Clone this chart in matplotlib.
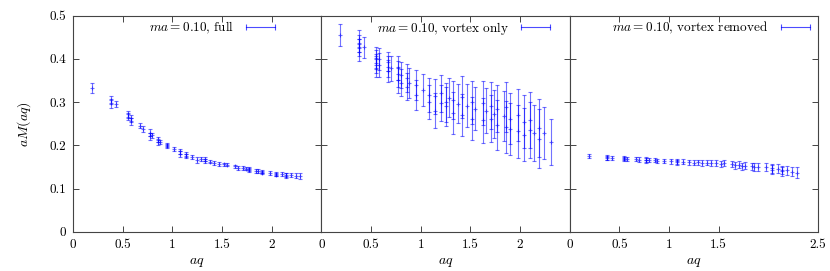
import numpy as np
import matplotlib
matplotlib.use("Agg")
import matplotlib.pyplot as plt
from matplotlib.lines import Line2D
from matplotlib.ticker import FuncFormatter

plt.rcParams['font.family'] = 'serif'
plt.rcParams['font.serif'] = ['cmr10']
plt.rcParams['mathtext.fontset'] = 'cm'
plt.rcParams['axes.formatter.use_mathtext'] = True

# full configuration
q_full = [0.19, 0.38, 0.38, 0.43, 0.55, 0.55, 0.58, 0.58, 0.67, 0.70, 0.77, 0.77,
          0.80, 0.86, 0.86, 0.88, 0.95, 0.95, 1.02, 1.08, 1.08, 1.14, 1.14, 1.20,
          1.25, 1.29, 1.33, 1.33, 1.38, 1.42, 1.47, 1.52, 1.55, 1.63, 1.66, 1.71,
          1.74, 1.77, 1.77, 1.84, 1.86, 1.90, 1.90, 1.98, 2.04, 2.04, 2.10, 2.14,
          2.14, 2.19, 2.24, 2.29]
m_full = [0.332, 0.305, 0.297, 0.296, 0.272, 0.266, 0.263, 0.256, 0.245, 0.238, 0.229, 0.221,
          0.223, 0.214, 0.207, 0.208, 0.201, 0.198, 0.191, 0.186, 0.180, 0.179, 0.176, 0.173,
          0.166, 0.169, 0.168, 0.163, 0.162, 0.159, 0.157, 0.156, 0.155, 0.151, 0.148, 0.147,
          0.146, 0.145, 0.143, 0.141, 0.141, 0.139, 0.137, 0.136, 0.134, 0.132, 0.133, 0.132,
          0.130, 0.131, 0.130, 0.128]
e_full = [0.012, 0.010, 0.010, 0.007, 0.008, 0.008, 0.008, 0.008, 0.006, 0.007, 0.008, 0.008,
          0.006, 0.006, 0.006, 0.005, 0.005, 0.004, 0.005, 0.005, 0.006, 0.005, 0.005, 0.005,
          0.006, 0.005, 0.005, 0.005, 0.004, 0.004, 0.004, 0.004, 0.004, 0.004, 0.004, 0.004,
          0.004, 0.004, 0.004, 0.004, 0.004, 0.004, 0.004, 0.004, 0.004, 0.004, 0.005, 0.005,
          0.005, 0.005, 0.006, 0.007]

# vortex only
q_vo = [0.19, 0.38, 0.38, 0.38, 0.38, 0.43, 0.55, 0.55, 0.55, 0.55, 0.58, 0.58,
        0.67, 0.67, 0.67, 0.70, 0.77, 0.77, 0.77, 0.80, 0.80, 0.86, 0.86, 0.88,
        0.95, 0.95, 1.02, 1.08, 1.08, 1.14, 1.14, 1.20, 1.20, 1.25, 1.25, 1.29,
        1.33, 1.33, 1.38, 1.42, 1.42, 1.47, 1.52, 1.52, 1.55, 1.63, 1.63, 1.66,
        1.71, 1.71, 1.74, 1.77, 1.77, 1.84, 1.86, 1.86, 1.90, 1.90, 1.98, 1.98,
        2.04, 2.04, 2.10, 2.10, 2.14, 2.19, 2.19, 2.24, 2.31]
m_vo = [0.455, 0.446, 0.436, 0.427, 0.415, 0.427, 0.407, 0.399, 0.390, 0.380, 0.400, 0.385,
        0.393, 0.382, 0.372, 0.378, 0.379, 0.365, 0.352, 0.362, 0.345, 0.356, 0.336, 0.345,
        0.340, 0.316, 0.328, 0.316, 0.300, 0.313, 0.280, 0.320, 0.298, 0.300, 0.290, 0.310,
        0.305, 0.275, 0.296, 0.312, 0.270, 0.292, 0.300, 0.262, 0.285, 0.298, 0.258, 0.280,
        0.292, 0.262, 0.272, 0.285, 0.248, 0.268, 0.288, 0.243, 0.262, 0.238, 0.270, 0.232,
        0.255, 0.225, 0.258, 0.236, 0.228, 0.240, 0.215, 0.228, 0.208]
e_vo = [0.025, 0.020, 0.020, 0.020, 0.020, 0.024, 0.020, 0.022, 0.022, 0.022, 0.025, 0.028,
        0.022, 0.025, 0.025, 0.028, 0.028, 0.030, 0.030, 0.030, 0.032, 0.032, 0.032, 0.035,
        0.035, 0.035, 0.038, 0.040, 0.040, 0.040, 0.040, 0.042, 0.042, 0.045, 0.045, 0.045,
        0.045, 0.048, 0.045, 0.048, 0.048, 0.050, 0.050, 0.050, 0.050, 0.052, 0.052, 0.052,
        0.055, 0.055, 0.055, 0.055, 0.058, 0.058, 0.058, 0.060, 0.060, 0.060, 0.060, 0.062,
        0.062, 0.062, 0.065, 0.065, 0.065, 0.068, 0.068, 0.060, 0.053]

# vortex removed
q_vr = [0.19, 0.38, 0.38, 0.43, 0.55, 0.55, 0.58, 0.67, 0.70, 0.77, 0.77, 0.80,
        0.86, 0.88, 0.95, 1.02, 1.08, 1.08, 1.14, 1.20, 1.25, 1.29, 1.33, 1.38,
        1.42, 1.47, 1.52, 1.55, 1.63, 1.66, 1.71, 1.74, 1.77, 1.84, 1.86, 1.90,
        1.98, 2.04, 2.04, 2.10, 2.14, 2.14, 2.19, 2.24, 2.29]
m_vr = [0.176, 0.172, 0.170, 0.171, 0.170, 0.168, 0.169, 0.168, 0.167, 0.167, 0.165, 0.166,
        0.166, 0.164, 0.164, 0.163, 0.163, 0.161, 0.162, 0.161, 0.160, 0.161, 0.159, 0.160,
        0.158, 0.159, 0.157, 0.158, 0.156, 0.154, 0.155, 0.152, 0.153, 0.152, 0.149, 0.150,
        0.149, 0.147, 0.144, 0.146, 0.143, 0.140, 0.142, 0.139, 0.137]
e_vr = [0.005, 0.005, 0.005, 0.005, 0.005, 0.005, 0.005, 0.005, 0.005, 0.005, 0.005, 0.005,
        0.005, 0.005, 0.005, 0.006, 0.006, 0.006, 0.006, 0.006, 0.006, 0.006, 0.006, 0.006,
        0.007, 0.007, 0.007, 0.007, 0.007, 0.008, 0.008, 0.008, 0.008, 0.008, 0.009, 0.009,
        0.009, 0.010, 0.010, 0.010, 0.010, 0.010, 0.011, 0.011, 0.012]

labels = ["full", "vortex only", "vortex removed"]
key_x = [0.845, 0.954, 0.998]
panels = [(q_full, m_full, e_full), (q_vo, m_vo, e_vo), (q_vr, m_vr, e_vr)]

fig, axes = plt.subplots(1, 3, sharey=True, figsize=(8.3, 2.71), dpi=100)
fig.subplots_adjust(left=0.088, right=0.9855, bottom=0.145, top=0.942, wspace=0)

fmt = FuncFormatter(lambda v, p: f'{v:g}')

for i, ax in enumerate(axes):
    q, m, e = panels[i]
    ax.errorbar(q, m, yerr=e, fmt='+', color='#0000ff', ecolor='#0000ff', ms=3, mew=0.8,
                lw=0.8, capsize=1.6, capthick=0.8, alpha=0.55)
    ax.set_xlim(0, 2.5)
    ax.set_ylim(0, 0.5)
    if i < 2:
        ax.set_xticks([0, 0.5, 1, 1.5, 2])
    else:
        ax.set_xticks([0, 0.5, 1, 1.5, 2.5])
    ax.set_yticks([0, 0.1, 0.2, 0.3, 0.4, 0.5])
    ax.xaxis.set_major_formatter(fmt)
    ax.yaxis.set_major_formatter(fmt)
    ax.tick_params(direction='in', top=True, right=True, length=4, width=0.7,
                   color='#444444', labelsize=9.5, pad=5)
    ax.tick_params(axis='y', pad=5)
    for s in ax.spines.values():
        s.set_color('#444444')
        s.set_linewidth(0.8)
    ax.set_xlabel('$aq$', fontsize=10, labelpad=4)

    h = Line2D([], [], color='#0000ff', marker='|', ms=4, mew=0.8, lw=0.8, alpha=0.7)
    ax.legend([h], [f'$ma = 0.10$, {labels[i]}'], loc='upper right',
              bbox_to_anchor=(key_x[i], 1.0), frameon=False, markerfirst=False,
              numpoints=2, fontsize=9.5, handlelength=2.8, handletextpad=0.6,
              borderpad=0.3, borderaxespad=0)

axes[0].set_ylabel('$aM(aq)$', fontsize=10, labelpad=12)

fig.savefig('out.png', dpi=100)
